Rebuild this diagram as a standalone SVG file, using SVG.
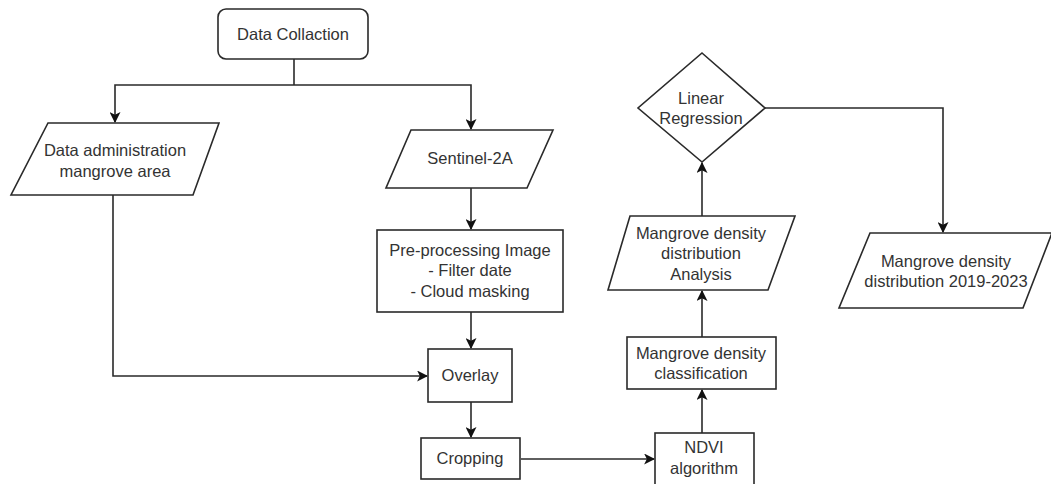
<svg xmlns="http://www.w3.org/2000/svg" width="1051" height="484" viewBox="0 0 1051 484">
<defs>
<marker id="arr" viewBox="0 0 10 10" refX="9" refY="5" markerWidth="11" markerHeight="11" markerUnits="userSpaceOnUse" orient="auto">
<path d="M0,0 L10,5 L0,10 L2.5,5 Z" fill="#111"/>
</marker>
<style>
.s{fill:#fff;stroke:#2a2a2a;stroke-width:1.6}
.c{fill:none;stroke:#2a2a2a;stroke-width:1.6}
text{font-family:"Liberation Sans",Arial,sans-serif;font-size:16.5px;fill:#333;text-anchor:middle}
</style>
</defs>
<rect width="1051" height="484" fill="#fff"/>
<g id="connectors">
<path class="c" d="M294,59 V85"/>
<path class="c" d="M294,85 H115 V122" marker-end="url(#arr)"/>
<path class="c" d="M294,85 H471 V129" marker-end="url(#arr)"/>
<path class="c" d="M471,188 V229" marker-end="url(#arr)"/>
<path class="c" d="M471,312 V348" marker-end="url(#arr)"/>
<path class="c" d="M113,195 V376 H427" marker-end="url(#arr)"/>
<path class="c" d="M471,402 V437" marker-end="url(#arr)"/>
<path class="c" d="M521,459 H654" marker-end="url(#arr)"/>
<path class="c" d="M702,433 V390" marker-end="url(#arr)"/>
<path class="c" d="M702,337 V291" marker-end="url(#arr)"/>
<path class="c" d="M702,216 V163" marker-end="url(#arr)"/>
<path class="c" d="M765,108 H943 V232" marker-end="url(#arr)"/>
</g>
<g id="data-collaction">
<rect class="s" x="218" y="9" width="150" height="50" rx="8"/>
<text x="293" y="40">Data Collaction</text>
</g>
<g id="data-admin">
<polygon class="s" points="48,123 219,123 193,195 11,195"/>
<text x="115" y="156">Data administration</text>
<text x="115" y="177">mangrove area</text>
</g>
<g id="sentinel">
<polygon class="s" points="411,130 553,130 527,188 386,188"/>
<text x="470" y="164">Sentinel-2A</text>
</g>
<g id="preprocessing">
<rect class="s" x="377" y="230" width="186" height="82"/>
<text x="470" y="256">Pre-processing Image</text>
<text x="470" y="276">- Filter date</text>
<text x="470" y="297">- Cloud masking</text>
</g>
<g id="overlay">
<rect class="s" x="428" y="349" width="84" height="53"/>
<text x="470" y="381">Overlay</text>
</g>
<g id="cropping">
<rect class="s" x="421" y="438" width="99" height="41"/>
<text x="470" y="464">Cropping</text>
</g>
<g id="ndvi">
<rect class="s" x="655" y="433" width="99" height="60"/>
<text x="704" y="453">NDVI</text>
<text x="704" y="474">algorithm</text>
</g>
<g id="classification">
<rect class="s" x="627" y="337" width="149" height="52"/>
<text x="701" y="359">Mangrove density</text>
<text x="701" y="379">classification</text>
</g>
<g id="analysis">
<polygon class="s" points="630,216 795,216 768,290 608,290"/>
<text x="701" y="239">Mangrove density</text>
<text x="701" y="259">distribution</text>
<text x="701" y="280">Analysis</text>
</g>
<g id="regression">
<polygon class="s" points="702,53 765,108 702,162 638,108"/>
<text x="701" y="104">Linear</text>
<text x="701" y="124">Regression</text>
</g>
<g id="result">
<polygon class="s" points="870,233 1052,233 1023,308 839,308"/>
<text x="946" y="267">Mangrove density</text>
<text x="946" y="287">distribution 2019-2023</text>
</g>
</svg>
